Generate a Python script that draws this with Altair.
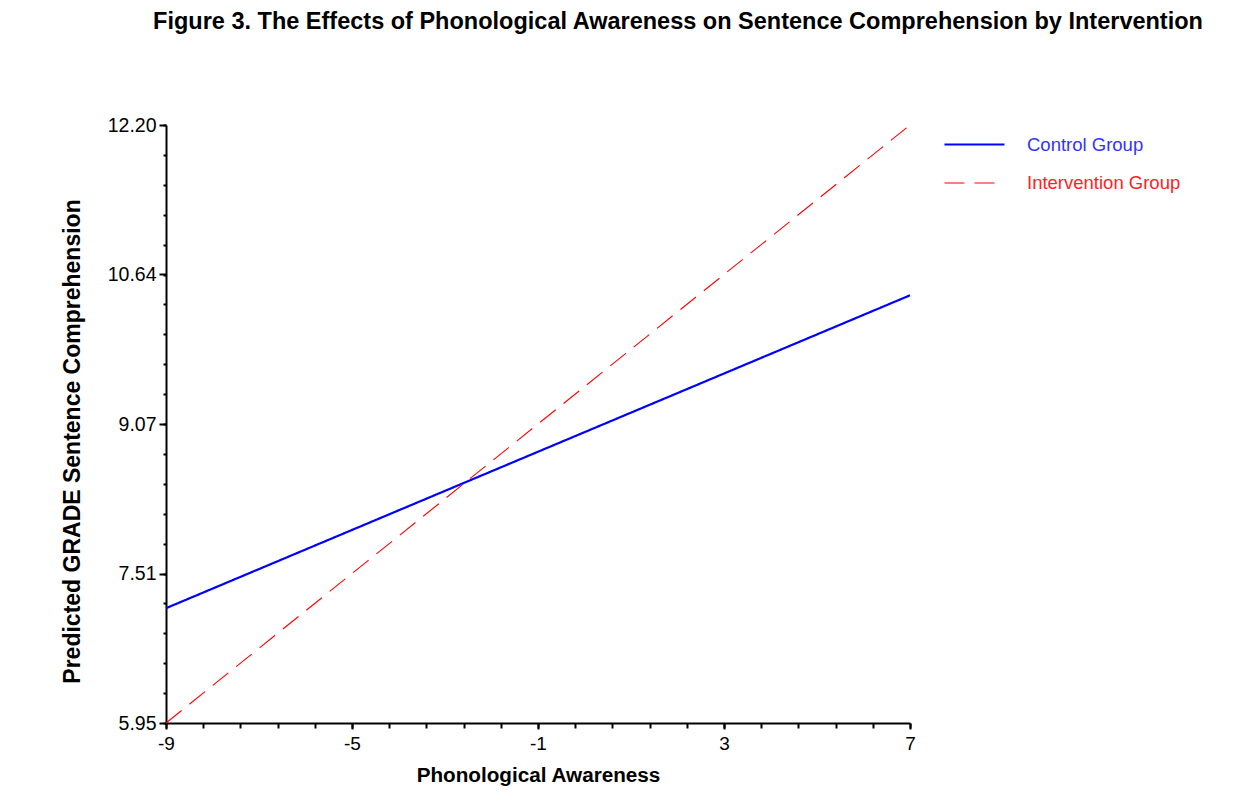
import altair as alt
import numpy as np
import pandas as pd

# Data
x_vals = [-9, 7]
control_vals = [7.15, 10.42]
intervention_vals = [5.95, 12.20]
groups = ["Control Group", "Intervention Group"]

x_ticks = [-9, -5, -1, 3, 7]
y_ticks = [5.95, 7.51, 9.07, 10.64, 12.20]
x_minor = [round(v, 2) for v in np.arange(-9, 7.01, 0.8)]
y_minor = [round(v, 4) for v in np.arange(5.95, 12.201, 0.3125)]

df = pd.DataFrame({
    "x": x_vals + x_vals,
    "y": control_vals + intervention_vals,
    "group": [groups[0]] * 2 + [groups[1]] * 2,
})

FONT = "Liberation Sans"

xscale = alt.Scale(domain=[-9, 7], nice=False, zero=False)
yscale = alt.Scale(domain=[5.95, 12.20], nice=False, zero=False)

legend_spec = dict(
    title=None, orient="none", legendX=797, legendY=8,
    symbolType="M-3,0H3", symbolSize=400, symbolStrokeWidth=1.6,
    labelFont=FONT, labelFontSize=18.5, labelOffset=41,
    labelColor={"expr": "datum.label == 'Control Group' ? '#3333FF' : '#FF2222'"},
    rowPadding=18, padding=0,
)

lines = alt.Chart(df).mark_line(clip=False).encode(
    x=alt.X("x:Q", scale=xscale,
            axis=alt.Axis(values=x_ticks, labelExpr="toString(datum.value)",
                          title="Phonological Awareness",
                          orient="bottom", grid=False, domainColor="black", domainWidth=2,
                          tickColor="black", tickWidth=2, tickSize=6,
                          labelFont=FONT, labelFontSize=19, labelColor="black",
                          labelPadding=5, labelFlush=False,
                          titleFont=FONT, titleFontSize=20.7, titleFontWeight="bold",
                          titleColor="black", titlePadding=12)),
    y=alt.Y("y:Q", scale=yscale,
            axis=alt.Axis(values=y_ticks, format=".2f",
                          title="Predicted GRADE Sentence Comprehension",
                          orient="left", grid=False, domainColor="black", domainWidth=2,
                          tickColor="black", tickWidth=2, tickSize=7,
                          labelFont=FONT, labelFontSize=19.5, labelColor="black",
                          labelPadding=3, labelFlush=False,
                          titleFont=FONT, titleFontSize=23, titleFontWeight="bold",
                          titleColor="black", titlePadding=23, titleY=316)),
    color=alt.Color("group:N",
                    scale=alt.Scale(domain=groups, range=["#0000FF", "#FF0000"]),
                    legend=alt.Legend(**legend_spec)),
    strokeDash=alt.StrokeDash("group:N",
                              scale=alt.Scale(domain=groups, range=[[1, 0], [20, 10]]),
                              legend=alt.Legend(**legend_spec)),
    strokeWidth=alt.StrokeWidth("group:N",
                                scale=alt.Scale(domain=groups, range=[2.2, 1.1]),
                                legend=None),
)

minor_df = pd.DataFrame({"x": [-9, 7], "y": [5.95, 12.20]})
minor = alt.Chart(minor_df).mark_point(opacity=0).encode(
    x=alt.X("x:Q", scale=xscale,
            axis=alt.Axis(values=x_minor, labels=False, title=None, domain=False,
                          grid=False, orient="bottom", tickColor="black",
                          tickWidth=2, tickSize=5)),
    y=alt.Y("y:Q", scale=yscale,
            axis=alt.Axis(values=y_minor, labels=False, title=None, domain=False,
                          grid=False, orient="left", tickColor="black",
                          tickWidth=2, tickSize=3)),
)

chart = alt.layer(minor, lines).resolve_axis(x="independent", y="independent").properties(
    width=744,
    height=598,
    autosize=alt.AutoSizeParams(type="none"),
    padding={"left": 158, "top": 117, "right": 330, "bottom": 70},
    title=alt.TitleParams(
        "Figure 3. The Effects of Phonological Awareness on Sentence Comprehension by Intervention",
        font=FONT, fontSize=23.5, fontWeight="bold", color="black",
        anchor="middle", frame="group", dx=140, offset=82),
    background="white",
).configure_view(stroke=None)

chart.save("out.html", embed_options={"renderer": "svg", "actions": False})
